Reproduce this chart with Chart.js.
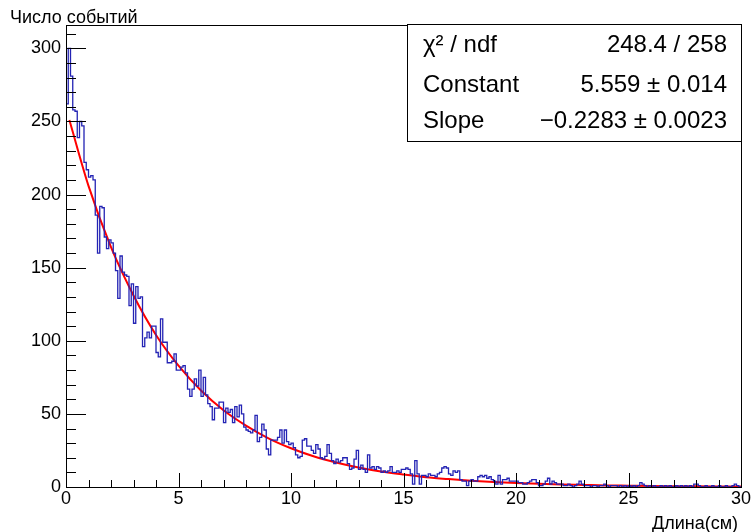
<!DOCTYPE html>
<html>
<head>
<meta charset="utf-8">
<script src="https://cdn.jsdelivr.net/npm/chart.js@4.4.1/dist/chart.umd.min.js"></script>
<style>
html, body { margin: 0; padding: 0; background: #fff; }
#wrap { width: 754px; height: 532px; }
</style>
</head>
<body>
<div id="wrap"><canvas id="chart" width="754" height="532"></canvas></div>
<script>
// --- гистограмма: 300 бинов по 0.1 см ---
const binLow = 0;
const binWidth = 0.1;
const counts = [
  262, 300, 281, 258, 257, 239, 250, 247, 222, 217,
  212, 213, 210, 186, 160, 192, 191, 171, 163, 169,
  167, 160, 148, 129, 158, 147, 145, 144, 124, 139,
  112, 137, 129, 130, 96, 102, 106, 102, 110, 110,
  92, 89, 115, 99, 99, 85, 85, 86, 91, 80,
  80, 82, 83, 78, 67, 62, 67, 74, 69, 80,
  62, 75, 63, 57, 55, 46, 54, 54, 58, 58,
  44, 54, 51, 53, 44, 55, 48, 56, 50, 41,
  39, 38, 37, 39, 49, 31, 34, 43, 39, 26,
  22, 32, 32, 32, 34, 39, 30, 39, 31, 29,
  30, 27, 22, 20, 21, 32, 33, 28, 28, 25,
  23, 29, 26, 20, 19, 21, 29, 23, 18, 16,
  19, 17, 18, 20, 20, 16, 12, 13, 19, 25,
  12, 15, 12, 10, 22, 13, 14, 12, 14, 13,
  10, 11, 10, 11, 14, 10, 10, 11, 10, 12,
  12, 13, 12, 9, 2, 18, 9, 2, 8, 8,
  7, 9, 8, 8, 7, 9, 10, 13, 14, 13,
  9, 8, 11, 10, 11, 5, 4, 4, 1, 4,
  5, 4, 4, 7, 8, 7, 8, 6, 7, 5,
  4, 2, 8, 2, 5, 5, 6, 4, 4, 4,
  4, 3, 3, 2, 2, 3, 4, 5, 5, 3,
  1, 1, 2, 4, 6, 2, 4, 3, 2, 2,
  2, 1, 1, 2, 1, 0, 1, 2, 4, 2,
  1, 1, 1, 0, 1, 1, 0, 1, 1, 2,
  1, 0, 1, 1, 1, 0, 1, 0, 1, 0,
  1, 0, 1, 0, 1, 3, 2, 1, 0, 1,
  0, 1, 0, 0, 1, 0, 1, 0, 1, 0,
  0, 1, 0, 1, 0, 1, 0, 1, 0, 2,
  2, 1, 0, 0, 1, 0, 0, 1, 0, 0,
  1, 0, 0, 1, 0, 0, 1, 2, 1, 0
];

// --- кривая фита (expo) ---
const fitX = [0.15, 1, 2, 3, 4, 5, 6, 7, 8, 9, 10, 11, 12, 13, 14, 15, 16, 17, 18, 19, 20, 21, 22, 23, 24, 25, 26, 27, 28, 29, 30];
const fitY = [251, 206, 164, 131, 104, 83, 66, 52.5, 42, 33.3, 26.5, 21, 16.8, 13.4, 10.6, 8.5, 6.7, 5.4, 4.3, 3.4, 2.7, 2.2, 1.7, 1.4, 1.1, 0.9, 0.7, 0.55, 0.44, 0.35, 0.28];

// --- оси и подписи ---
const xTicks = [0, 5, 10, 15, 20, 25, 30];
const yTicks = [0, 50, 100, 150, 200, 250, 300];
const xMax = 30;
const yMax = 316;
const yTitle = 'Число событий';
const xTitle = 'Длина(см)';
const statsRows = [
  ['χ² / ndf', '248.4 / 258'],
  ['Constant', '5.559 ± 0.014'],
  ['Slope', '−0.2283 ± 0.0023']
];

const FONT = '"Liberation Sans", Arial, Helvetica, sans-serif';

function histPoints() {
  const pts = counts.map((c, i) => ({ x: binLow + i * binWidth, y: c }));
  pts.push({ x: binLow + counts.length * binWidth, y: counts[counts.length - 1] });
  return pts;
}

// рамка, тики внутрь, статбокс и заголовки осей в стиле ROOT
const rootFrame = {
  id: 'rootFrame',
  afterDatasetsDraw(chart) {
    const { ctx, chartArea: a, scales: { x, y } } = chart;
    ctx.save();
    ctx.strokeStyle = '#000';
    ctx.lineWidth = 1;
    ctx.beginPath();
    for (let v = 0; v <= xMax; v += 1) {
      const px = Math.round(x.getPixelForValue(v)) + 0.5;
      const len = xTicks.includes(v) ? 14 : 7;
      ctx.moveTo(px, a.bottom);
      ctx.lineTo(px, a.bottom - len);
    }
    for (let v = 0; v <= yMax; v += 10) {
      const py = Math.round(y.getPixelForValue(v)) + 0.5;
      const len = yTicks.includes(v) ? 20 : 10;
      ctx.moveTo(a.left, py);
      ctx.lineTo(a.left + len, py);
    }
    ctx.stroke();
    ctx.strokeRect(Math.round(a.left) + 0.5, Math.round(a.top) + 0.5,
      Math.round(a.right - a.left), Math.round(a.bottom - a.top));

    // статбокс
    const bx = 407.5, by = 24.5, bw = 334, bh = 117;
    ctx.fillStyle = '#fff';
    ctx.fillRect(bx, by, bw, bh);
    ctx.strokeRect(bx, by, bw, bh);
    ctx.fillStyle = '#000';
    ctx.font = '24px ' + FONT;
    ctx.textBaseline = 'alphabetic';
    const baselines = [52, 91.5, 128];
    statsRows.forEach((row, i) => {
      ctx.textAlign = 'left';
      ctx.fillText(row[0], 423, baselines[i]);
      ctx.textAlign = 'right';
      ctx.fillText(row[1], 727, baselines[i]);
    });

    // заголовки осей
    ctx.font = '18px ' + FONT;
    ctx.textAlign = 'left';
    ctx.fillText(yTitle, 10, 23);
    ctx.textAlign = 'right';
    ctx.fillText(xTitle, 738, 529);
    ctx.restore();
  }
};

new Chart(document.getElementById('chart'), {
  type: 'line',
  data: {
    datasets: [
      {
        label: 'hist',
        data: histPoints(),
        stepped: 'before',
        borderColor: '#2323b4',
        borderWidth: 1.3,
        pointRadius: 0,
        fill: false
      },
      {
        label: 'expo',
        data: fitX.map((v, i) => ({ x: v, y: fitY[i] })),
        borderColor: '#ff0000',
        borderWidth: 2,
        pointRadius: 0,
        cubicInterpolationMode: 'monotone',
        fill: false
      }
    ]
  },
  options: {
    responsive: false,
    devicePixelRatio: 1,
    animation: false,
    layout: { padding: { top: 25, right: 13, left: 0, bottom: 0 } },
    plugins: { legend: { display: false }, tooltip: { enabled: false } },
    scales: {
      x: {
        type: 'linear',
        min: 0,
        max: xMax,
        grid: { display: false, drawTicks: false },
        border: { display: false },
        afterFit: s => { s.height = 45; },
        afterBuildTicks: s => { s.ticks = xTicks.map(v => ({ value: v })); },
        ticks: { color: '#000', padding: 1, font: { family: FONT, size: 18 }, maxRotation: 0 }
      },
      y: {
        type: 'linear',
        min: 0,
        max: yMax,
        grid: { display: false, drawTicks: false },
        border: { display: false },
        afterFit: s => { s.width = 66; },
        afterBuildTicks: s => { s.ticks = yTicks.map(v => ({ value: v })); },
        ticks: { color: '#000', padding: 5, font: { family: FONT, size: 18 } }
      }
    }
  },
  plugins: [rootFrame]
});
</script>
</body>
</html>
